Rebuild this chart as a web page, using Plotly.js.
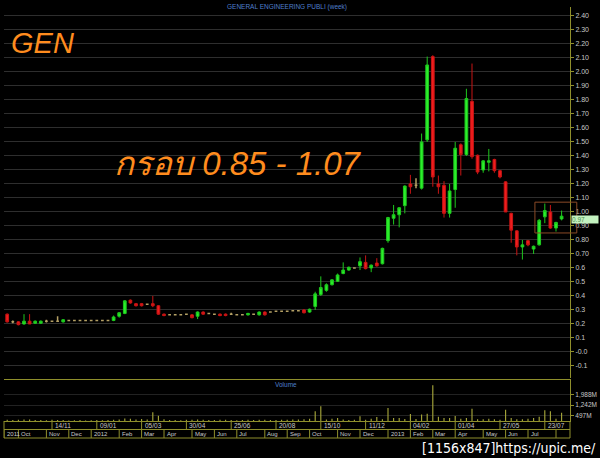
<!DOCTYPE html>
<html><head><meta charset="utf-8">
<script src="https://cdn.plot.ly/plotly-3.0.1.min.js"></script>
<style>html,body{margin:0;padding:0;background:#000;}#chart{width:600px;height:458px;}</style>
</head><body><div id="chart"></div>
<script>
const weeks = [
'2011-09-19','2011-09-26','2011-10-03','2011-10-10','2011-10-17','2011-10-24','2011-10-31','2011-11-07','2011-11-14','2011-11-21',
'2011-11-28','2011-12-05','2011-12-12','2011-12-19','2011-12-26','2012-01-02','2012-01-09','2012-01-16','2012-01-23','2012-01-30',
'2012-02-06','2012-02-13','2012-02-20','2012-02-27','2012-03-05','2012-03-12','2012-03-19','2012-03-26','2012-04-02','2012-04-09',
'2012-04-16','2012-04-23','2012-04-30','2012-05-07','2012-05-14','2012-05-21','2012-05-28','2012-06-04','2012-06-11','2012-06-18',
'2012-06-25','2012-07-02','2012-07-09','2012-07-16','2012-07-23','2012-07-30','2012-08-06','2012-08-13','2012-08-20','2012-08-27',
'2012-09-03','2012-09-10','2012-09-17','2012-09-24','2012-10-01','2012-10-08','2012-10-15','2012-10-22','2012-10-29','2012-11-05',
'2012-11-12','2012-11-19','2012-11-26','2012-12-03','2012-12-10','2012-12-17','2012-12-24','2012-12-31','2013-01-07','2013-01-14',
'2013-01-21','2013-01-28','2013-02-04','2013-02-11','2013-02-18','2013-02-25','2013-03-04','2013-03-11','2013-03-18','2013-03-25',
'2013-04-01','2013-04-08','2013-04-15','2013-04-22','2013-04-29','2013-05-06','2013-05-13','2013-05-20','2013-05-27','2013-06-03',
'2013-06-10','2013-06-17','2013-06-24','2013-07-01','2013-07-08','2013-07-15','2013-07-22','2013-07-29','2013-08-05','2013-08-12'];

const openP = [
.27,.215,.215,.20,.22,.205,.205,.22,.22,.22,
.215,.225,.225,.225,.225,.225,.225,.225,.225,.225,
.255,.275,.37,.345,.345,.34,.345,.33,.27,.265,
.265,.265,.27,.265,.255,.285,.275,.27,.27,.27,
.27,.265,.265,.265,.27,.265,.285,.285,.29,.29,
.29,.295,.295,.30,.285,.325,.41,.44,.48,.505,
.56,.585,.60,.615,.64,.60,.635,.63,.795,.955,
.98,1.045,1.20,1.19,1.17,1.515,2.11,1.20,1.19,.99,
1.16,1.48,1.41,1.79,1.405,1.30,1.355,1.375,1.295,1.215,
.99,.865,.75,.795,.735,.765,.965,1.00,.885,.95];
const highP = [
.275,.225,.22,.27,.27,.225,.225,.23,.225,.255,
.235,.23,.23,.23,.23,.23,.23,.23,.23,.26,
.285,.37,.375,.35,.35,.345,.40,.335,.275,.27,
.27,.27,.275,.27,.29,.29,.28,.275,.275,.275,
.28,.27,.27,.28,.275,.29,.29,.29,.295,.295,
.295,.30,.30,.305,.31,.43,.54,.49,.52,.56,
.64,.61,.605,.675,.69,.625,.67,.745,.965,1.05,
1.035,1.19,1.265,1.24,1.56,2.11,2.12,1.26,1.22,1.20,
1.50,1.49,1.88,2.06,1.41,1.37,1.45,1.38,1.30,1.22,
.995,.87,.80,.80,.76,.95,1.06,1.05,.93,1.01];
const lowP = [
.21,.205,.19,.195,.20,.20,.20,.21,.215,.215,
.21,.22,.22,.22,.22,.22,.22,.22,.22,.22,
.245,.27,.345,.325,.325,.335,.32,.265,.255,.26,
.26,.26,.265,.24,.235,.265,.27,.265,.255,.255,
.265,.26,.26,.26,.265,.26,.26,.28,.285,.285,
.285,.29,.29,.275,.28,.30,.40,.43,.475,.50,
.555,.58,.595,.585,.59,.57,.61,.625,.78,.91,
.89,.99,1.13,1.17,1.16,1.50,1.18,1.13,.96,.96,
1.03,1.26,1.40,1.38,1.27,1.28,1.29,1.28,1.24,1.00,
.78,.69,.66,.755,.70,.76,.92,.88,.86,.94];
const closeP = [
.215,.215,.195,.22,.20,.22,.22,.22,.22,.22,
.23,.225,.225,.225,.225,.225,.225,.225,.225,.25,
.28,.365,.35,.33,.33,.34,.33,.27,.26,.265,
.265,.265,.27,.245,.285,.27,.275,.27,.26,.26,
.27,.265,.265,.275,.27,.285,.265,.285,.29,.29,
.29,.295,.295,.28,.305,.415,.46,.48,.515,.55,
.585,.605,.60,.645,.595,.62,.615,.74,.96,.98,
1.03,1.185,1.18,1.19,1.50,2.05,1.25,1.18,.99,1.15,
1.455,1.41,1.81,1.395,1.285,1.365,1.365,1.295,1.25,1.00,
.87,.75,.765,.765,.755,.94,1.01,.885,.925,.97];
const volumeM = [
180,150,170,200,190,150,160,130,170,150,
160,120,130,150,120,140,160,130,150,180,
200,260,240,200,220,190,720,470,210,150,
160,140,170,180,200,170,150,160,180,170,
150,140,160,170,150,180,170,150,160,180,
170,190,200,210,250,790,1150,190,250,300,
200,150,170,430,170,250,370,210,1030,300,
300,230,590,220,550,600,2670,400,300,300,
450,250,300,980,210,210,250,210,170,900,
300,210,210,250,300,400,870,790,250,680];

const priceTickVals = [2.4,2.3,2.2,2.1,2.0,1.9,1.8,1.7,1.6,1.5,1.4,1.3,1.2,1.1,1.0,0.9,0.8,0.7,0.6,0.5,0.4,0.3,0.2,0.1,0,-0.1];
const priceTickText = ['2.40','2.30','2.20','2.10','2.00','1.90','1.80','1.70','1.60','1.50','1.40','1.30','1.20','1.10','1.00','0.90','0.80','0.70','0.6','0.5','0.4','0.3','0.2','0.1','-0.0','-0.1'];
const volTickVals = [497,1242,1988];
const volTickText = ['497M','1,242M','1,988M'];
const dateTickVals = ['2011-11-14','2012-01-09','2012-03-05','2012-04-30','2012-06-25','2012-08-20','2012-10-15','2012-12-10','2013-02-04','2013-04-01','2013-05-27','2013-07-22'];
const dateTickText = ['14/11','09/01','05/03','30/04','25/06','20/08','15/10','11/12','04/02','01/04','27/05','23/07'];
const monthStarts = ['2011-09-15','2011-10-03','2011-11-07','2011-12-05','2012-01-02','2012-02-06','2012-03-05','2012-04-02','2012-05-07','2012-06-04','2012-07-02','2012-08-06','2012-09-03','2012-10-01','2012-11-05','2012-12-03','2013-01-07','2013-02-04','2013-03-04','2013-04-01','2013-05-06','2013-06-03','2013-07-01','2013-08-05'];
const monthLabels = ['2011','Oct','Nov','Dec','2012','Feb','Mar','Apr','May','Jun','Jul','Aug','Sep','Oct','Nov','Dec','2013','Feb','Mar','Apr','May','Jun','Jul',''];
const boxRange = [0.85, 1.07];
const chartTitle = 'GENERAL ENGINEERING PUBLI (week)';
const symbol = 'GEN';

const H = 458;
const py = p => 1 - p / H;   // pixel row -> paper fraction
const OL = '#8f8f2c';
const LBL = '#c8c8c8';

const main = {x:[],o:[],h:[],l:[],c:[]}, doji = {x:[],o:[],h:[],l:[],c:[]};
for (let i = 0; i < weeks.length; i++) {
  const t = (openP[i] === closeP[i]) ? doji : main;
  t.x.push(weeks[i]); t.o.push(openP[i]); t.h.push(highP[i]); t.l.push(lowP[i]); t.c.push(closeP[i]);
}

const traces = [
  {type:'candlestick', x:main.x, open:main.o, high:main.h, low:main.l, close:main.c, xaxis:'x', yaxis:'y',
   increasing:{line:{color:'#1ec81e', width:1}, fillcolor:'#2cf02c'},
   decreasing:{line:{color:'#c81414', width:1}, fillcolor:'#f01e1e'}, hoverinfo:'skip'},
  {type:'candlestick', x:doji.x, open:doji.o, high:doji.h, low:doji.l, close:doji.c, xaxis:'x', yaxis:'y',
   increasing:{line:{color:'#b4a064', width:1.5}, fillcolor:'#b4a064'},
   decreasing:{line:{color:'#b4a064', width:1.5}, fillcolor:'#b4a064'}, hoverinfo:'skip'},
  {type:'bar', x:weeks, y:volumeM, xaxis:'x2', yaxis:'y2', width:1.2e8,
   marker:{color:'#a8a83a', line:{width:0}}, hoverinfo:'skip'}
];

const shapes = [];
const annotations = [];
const r1Top = 421, r1Bot = 429.5, r2Bot = 438;
[r1Bot, r2Bot].forEach(p => shapes.push({type:'line', xref:'paper', yref:'paper', x0:0, x1:1, y0:py(p), y1:py(p), line:{color:OL, width:1}}));
[0, 1].forEach(xp => shapes.push({type:'line', xref:'paper', yref:'paper', x0:xp, x1:xp, y0:py(r1Top), y1:py(r2Bot), line:{color:OL, width:1}}));
dateTickVals.forEach((d, i) => {
  shapes.push({type:'line', xref:'x', yref:'paper', x0:d, x1:d, y0:py(r1Top), y1:py(r1Bot), line:{color:OL, width:1}});
  annotations.push({xref:'x', yref:'paper', x:d, y:py(425.3), xanchor:'left', yanchor:'middle', xshift:1, showarrow:false,
    text:dateTickText[i], font:{family:'Liberation Sans', size:6.5, color:LBL}});
});
monthStarts.forEach((d, i) => {
  shapes.push({type:'line', xref:'x', yref:'paper', x0:d, x1:d, y0:py(r1Bot), y1:py(r2Bot), line:{color:OL, width:1}});
  annotations.push({xref:'x', yref:'paper', x:d, y:py(433.8), xanchor:'left', yanchor:'middle', xshift:0.5, showarrow:false,
    text:monthLabels[i], font:{family:'Liberation Sans', size:6, color:LBL}});
});
shapes.push({type:'rect', xref:'paper', yref:'y', x0:0.938, x1:1.012, y0:boxRange[0], y1:boxRange[1],
  line:{color:'#8a4a26', width:1}, fillcolor:'rgba(0,0,0,0)'});

annotations.push(
  {xref:'paper', yref:'paper', x:0.5, y:py(6.5), xanchor:'center', yanchor:'middle', showarrow:false,
   text:chartTitle, font:{family:'Liberation Sans', size:6.5, color:'#4f7fcc'}},
  {xref:'paper', yref:'paper', x:0.4977, y:py(384), xanchor:'center', yanchor:'middle', showarrow:false,
   text:'Volume', font:{family:'Liberation Sans', size:6.5, color:'#4f7fcc'}},
  {xref:'paper', yref:'paper', x:(9-4)/566, y:py(43), xanchor:'left', yanchor:'middle', showarrow:false,
   text:symbol, font:{family:'Liberation Sans', size:29, color:'#ff8c1e', style:'italic'}},
  {xref:'paper', yref:'paper', x:(112-4)/566, y:py(164), xanchor:'left', yanchor:'middle', showarrow:false,
   text:'กรอบ ' + boxRange[0].toFixed(2) + ' - ' + boxRange[1].toFixed(2), font:{family:'Liberation Sans, Noto Sans, DejaVu Sans, sans-serif', size:33, color:'#ff8c1e', style:'italic'}},
  {xref:'paper', yref:'y', x:1, y:closeP[closeP.length-1], xanchor:'left', yanchor:'middle', xshift:1, yshift:-3, showarrow:false,
   text:closeP[closeP.length-1].toFixed(2), width:26, height:7, align:'left', bgcolor:'#c4f2c0', borderpad:0,
   font:{family:'Liberation Sans', size:6.5, color:'#4c8c4c'}},
  {xref:'paper', yref:'paper', x:(598-4)/566, y:py(448), xanchor:'right', yanchor:'middle', showarrow:false,
   text:'[1156x847]https://upic.me/', font:{family:'DejaVu Sans Condensed, Liberation Sans', size:14, color:'#ffffff'}}
);

const layout = {
  width:600, height:458, paper_bgcolor:'#000', plot_bgcolor:'#000',
  margin:{l:4, r:30, t:0, b:0}, showlegend:false, dragmode:false,
  xaxis:{domain:[0,1], anchor:'y', type:'date', range:['2011-09-15','2013-08-22 12:00'],
    showticklabels:false, ticks:'', showgrid:false, zeroline:false, showline:false, rangeslider:{visible:false}},
  yaxis:{domain:[py(378), py(7)], range:[-0.186, 2.464], side:'right', anchor:'x',
    tickvals:priceTickVals, ticktext:priceTickText, ticks:'outside', ticklen:3, tickcolor:OL,
    showline:true, linecolor:OL, linewidth:1, gridcolor:'#2e2e2e', gridwidth:1, zeroline:false,
    tickfont:{family:'Liberation Sans', size:7, color:LBL}, automargin:false},
  xaxis2:{domain:[0,1], anchor:'y2', type:'date', matches:'x',
    showticklabels:false, ticks:'', showgrid:false, zeroline:false, showline:true, mirror:true, linecolor:OL, linewidth:1,
    rangeslider:{visible:false}},
  yaxis2:{domain:[py(421), py(380)], range:[84, 3053], side:'right', anchor:'x2',
    tickvals:volTickVals, ticktext:volTickText, ticks:'outside', ticklen:3, tickcolor:OL,
    showline:true, linecolor:OL, linewidth:1, gridcolor:'#222222', zeroline:false,
    tickfont:{family:'Liberation Sans', size:6.5, color:LBL}, automargin:false},
  shapes:shapes, annotations:annotations
};

Plotly.newPlot('chart', traces, layout, {staticPlot:true, displayModeBar:false});
</script></body></html>
